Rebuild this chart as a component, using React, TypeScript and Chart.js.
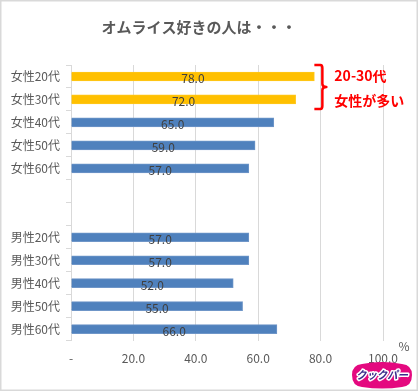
import React, { useEffect, useRef } from "react";
import { Chart, registerables } from "chart.js";

Chart.register(...registerables);

const categories = [
  "女性20代", "女性30代", "女性40代", "女性50代", "女性60代",
  "", " ",
  "男性20代", "男性30代", "男性40代", "男性50代", "男性60代",
];
const values: (number | null)[] = [78, 72, 65, 59, 57, null, null, 57, 57, 52, 55, 66];
const highlighted = [true, true, false, false, false, false, false, false, false, false, false, false];
const xTicks = [0, 20, 40, 60, 80, 100];
const titleText = "オムライス好きの人は・・・";
const noteLines = ["20-30代", "女性が多い"];
const logoText = "クックパー";

const FONT = "'Noto Sans CJK JP', 'Noto Sans', sans-serif";
const GRAY = "#595959";
const YELLOW = "#FFC000";
const BLUE = "#4F81BD";

const labelPlugin = {
  id: "barLabels",
  afterDatasetsDraw(chart: any) {
    const ctx = chart.ctx;
    const meta = chart.getDatasetMeta(0);
    ctx.save();
    ctx.font = `12px ${FONT}`;
    ctx.fillStyle = "#404040";
    ctx.textAlign = "center";
    ctx.textBaseline = "middle";
    meta.data.forEach((bar: any, i: number) => {
      const v = values[i];
      if (v == null) return;
      const p = bar.getProps(["x", "y", "base"], true);
      ctx.fillText(v.toFixed(1), (p.x + p.base) / 2, p.y + 2);
    });
    ctx.restore();
  },
};

const decorPlugin = {
  id: "decor",
  afterDraw(chart: any) {
    const ctx = chart.ctx;
    const xs = chart.scales.x;
    const ys = chart.scales.y;
    ctx.save();
    // border
    ctx.strokeStyle = "#D9D9D9";
    ctx.lineWidth = 1.5;
    ctx.strokeRect(0.75, 0.75, chart.width - 1.5, chart.height - 1.5);

    // title
    ctx.fillStyle = GRAY;
    ctx.font = `bold 15px ${FONT}`;
    ctx.textAlign = "center";
    ctx.textBaseline = "middle";
    ctx.fillText(titleText, 199, 27);

    // "%" unit
    ctx.font = `12px ${FONT}`;
    ctx.fillText("%", xs.right + 21, ys.bottom + 6);

    // bracket
    const bx = xs.getPixelForValue(78) + 0;
    const top = ys.top;
    const bottom = ys.getPixelForValue(1) + ys.height / categories.length / 2 - 2;
    const mid = (top + bottom) / 2;
    ctx.strokeStyle = "#FF0000";
    ctx.lineWidth = 2.5;
    ctx.lineJoin = "round";
    ctx.beginPath();
    ctx.moveTo(bx, top);
    ctx.lineTo(bx + 6, top);
    ctx.quadraticCurveTo(bx + 8, top, bx + 8, top + 3);
    ctx.lineTo(bx + 8, mid - 3);
    ctx.quadraticCurveTo(bx + 8, mid, bx + 12, mid);
    ctx.quadraticCurveTo(bx + 8, mid, bx + 8, mid + 3);
    ctx.lineTo(bx + 8, bottom - 3);
    ctx.quadraticCurveTo(bx + 8, bottom, bx + 6, bottom);
    ctx.lineTo(bx, bottom);
    ctx.stroke();

    // note text
    ctx.fillStyle = "#FF0000";
    ctx.font = `bold 14px ${FONT}`;
    ctx.textAlign = "left";
    ctx.fillText(noteLines[0], bx + 20, ys.getPixelForValue(0) - 1);
    ctx.fillText(noteLines[1], bx + 20, ys.getPixelForValue(1) + 1);

    // logo
    const lx = 352, ly = 362, lw = 60, lh = 26;
    ctx.fillStyle = "#E4097F";
    ctx.beginPath();
    ctx.moveTo(lx + 10, ly + 2);
    ctx.quadraticCurveTo(lx + lw / 2, ly - 2, lx + lw - 10, ly + 2);
    ctx.quadraticCurveTo(lx + lw, ly + 3, lx + lw, ly + lh / 2);
    ctx.quadraticCurveTo(lx + lw, ly + lh - 2, lx + lw - 10, ly + lh - 1);
    ctx.quadraticCurveTo(lx + lw / 2, ly + lh + 2, lx + 10, ly + lh - 1);
    ctx.quadraticCurveTo(lx, ly + lh - 2, lx, ly + lh / 2);
    ctx.quadraticCurveTo(lx, ly + 3, lx + 10, ly + 2);
    ctx.closePath();
    ctx.fill();
    ctx.font = `bold italic 11px ${FONT}`;
    ctx.textAlign = "center";
    ctx.textBaseline = "middle";
    ctx.lineWidth = 3;
    ctx.strokeStyle = "#FFFFFF";
    ctx.lineJoin = "round";
    ctx.strokeText(logoText, lx + lw / 2, ly + lh / 2, lw - 8);
    ctx.fillStyle = "#3A2D8C";
    ctx.fillText(logoText, lx + lw / 2, ly + lh / 2, lw - 8);
    ctx.restore();
  },
};

export default function App() {
  const ref = useRef<HTMLCanvasElement>(null);
  useEffect(() => {
    document.body.style.margin = "0";
    const chart = new Chart(ref.current!, {
      type: "bar",
      data: {
        labels: categories,
        datasets: [
          {
            data: values,
            backgroundColor: highlighted.map((h) => (h ? YELLOW : BLUE)),
            borderColor: highlighted.map((h) => (h ? "#FFC71A" : "#6F96C8")),
            borderWidth: 1,
            barThickness: 9,
          },
        ],
      },
      options: {
        indexAxis: "y",
        responsive: false,
        animation: false,
        layout: { padding: { left: 0, right: 35, top: 65, bottom: 14 } },
        plugins: {
          legend: { display: false },
          tooltip: { enabled: false },
          title: { display: false },
        },
        scales: {
          x: {
            min: 0,
            max: 100,
            afterBuildTicks(scale: any) {
              scale.ticks = xTicks.map((v) => ({ value: v }));
            },
            ticks: {
              color: GRAY,
              font: { family: FONT, size: 12 },
              padding: 11,
              callback: (v: any) => (Number(v) === 0 ? "-" : Number(v).toFixed(1)),
            },
            grid: { color: "#D9D9D9", drawTicks: false },
            border: { display: false },
          },
          y: {
            afterFit(scale: any) {
              scale.width = 71;
            },
            ticks: {
              color: GRAY,
              font: { family: FONT, size: 12 },
              padding: 6,
            },
            grid: { color: "#D9D9D9", drawOnChartArea: false, tickLength: 5, offset: true },
            border: { color: "#D9D9D9" },
          },
        },
      },
      plugins: [labelPlugin, decorPlugin],
    });
    return () => chart.destroy();
  }, []);
  return (
    <div style={{ position: "fixed", left: 0, top: 0, width: 418, height: 391, background: "#fff" }}>
      <canvas ref={ref} width={418} height={391} style={{ width: 418, height: 391, display: "block" }} />
    </div>
  );
}
